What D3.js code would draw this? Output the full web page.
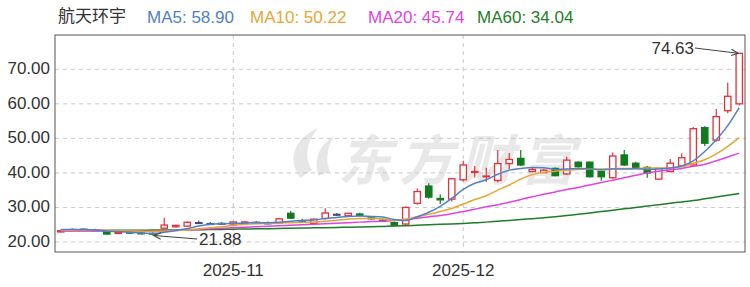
<!DOCTYPE html>
<html lang="zh">

<head>
    <meta charset="utf-8">
    <script src='https://d3js.org/d3.v7.min.js'></script>
    <style>
        body { margin: 0; background: #ffffff; }
        text { font-family: "Liberation Sans", Arial, "Noto Sans CJK SC", sans-serif; }
    </style>
</head>

<body>
    <script>
        // trading days shown on the chart
        const dates = [
            "2025-10-13", "2025-10-14", "2025-10-15", "2025-10-16", "2025-10-17",
            "2025-10-20", "2025-10-21", "2025-10-22", "2025-10-23", "2025-10-24",
            "2025-10-27", "2025-10-28", "2025-10-29", "2025-10-30", "2025-10-31",
            "2025-11-03", "2025-11-04", "2025-11-05", "2025-11-06", "2025-11-07",
            "2025-11-10", "2025-11-11", "2025-11-12", "2025-11-13", "2025-11-14",
            "2025-11-17", "2025-11-18", "2025-11-19", "2025-11-20", "2025-11-21",
            "2025-11-24", "2025-11-25", "2025-11-26", "2025-11-27", "2025-11-28",
            "2025-12-01", "2025-12-02", "2025-12-03", "2025-12-04", "2025-12-05",
            "2025-12-08", "2025-12-09", "2025-12-10", "2025-12-11", "2025-12-12",
            "2025-12-15", "2025-12-16", "2025-12-17", "2025-12-18", "2025-12-19",
            "2025-12-22", "2025-12-23", "2025-12-24", "2025-12-25", "2025-12-26",
            "2025-12-29", "2025-12-30", "2025-12-31", "2026-01-05", "2026-01-06"
        ];

        const opens = [22.9, 23.5, 23.7, 23.5, 23.1, 22.6, 22.8, 22.6, 22.5, 24.0,
            24.4, 24.6, 25.6, 25.3, 25.4, 25.2, 25.4, 25.7, 25.5, 25.5,
            28.3, 26.2, 25.4, 26.8, 28.0, 27.6, 28.1, 27.0, 26.3, 25.6,
            25.2, 31.2, 36.2, 32.6, 32.4, 38.0, 40.3, 38.9, 37.8, 42.7,
            44.2, 40.4, 40.1, 41.3, 39.7, 43.1, 43.1, 40.4, 38.6, 45.2,
            42.8, 41.6, 38.2, 40.4, 42.0, 42.3, 53.1, 49.5, 58.0, 60.0];
        const highs = [23.4, 24.0, 23.9, 23.8, 23.3, 23.0, 23.0, 22.9, 22.8, 27.0,
            25.0, 26.0, 26.2, 25.8, 25.7, 26.0, 26.0, 26.0, 25.9, 27.0,
            29.0, 26.7, 26.8, 29.8, 28.4, 28.4, 28.5, 27.2, 26.6, 25.9,
            30.3, 35.5, 37.0, 33.8, 38.6, 43.5, 42.0, 41.5, 46.6, 45.8,
            46.6, 41.7, 41.2, 41.6, 44.7, 43.4, 43.3, 40.6, 45.9, 46.6,
            43.2, 42.0, 41.5, 44.0, 45.7, 53.3, 53.5, 58.5, 66.1, 74.63];
        const lows = [22.8, 23.3, 23.4, 23.2, 22.1, 22.3, 22.4, 22.2, 21.88, 23.8,
            24.2, 24.5, 25.2, 24.9, 24.9, 25.0, 25.2, 25.2, 25.1, 25.3,
            26.7, 25.8, 25.2, 26.5, 27.5, 27.4, 27.4, 26.5, 25.8, 24.6,
            24.9, 30.8, 32.5, 31.0, 31.7, 37.6, 38.7, 37.4, 37.3, 41.0,
            42.0, 40.2, 40.0, 39.0, 39.4, 41.6, 38.7, 37.7, 38.3, 42.0,
            41.4, 38.6, 38.0, 40.2, 41.8, 42.0, 47.8, 49.0, 57.3, 59.5];
        const closes = [23.3, 23.6, 23.6, 23.4, 22.3, 22.7, 22.6, 22.5, 22.3, 24.9,
            24.8, 25.7, 25.6, 25.3, 25.4, 25.8, 25.8, 25.7, 25.5, 26.7,
            26.9, 26.2, 26.6, 28.4, 28.0, 28.3, 27.7, 26.7, 26.1, 24.8,
            30.0, 34.6, 33.0, 32.2, 38.3, 42.3, 40.4, 39.1, 42.7, 43.9,
            42.3, 41.0, 40.8, 39.2, 43.7, 41.8, 38.9, 38.9, 44.9, 42.3,
            41.6, 40.0, 41.3, 42.8, 44.4, 52.8, 48.6, 56.3, 62.19, 74.63];

        // moving averages
        const ma5 = [23.6, 23.6, 23.6, 23.5, 23.2, 23.0, 22.8, 22.6, 22.4, 22.8,
            23.3, 23.9, 24.6, 25.1, 25.3, 25.4, 25.5, 25.6, 25.6, 25.7,
            26.0, 26.2, 26.4, 26.8, 27.1, 27.4, 27.5, 27.4, 27.2, 26.5,
            26.2, 27.3, 28.6, 30.3, 32.6, 35.2, 37.0, 38.0, 39.6, 40.8,
            41.3, 41.6, 41.5, 41.0, 41.1, 41.3, 41.2, 40.9, 41.1, 41.1,
            41.2, 41.0, 41.1, 41.4, 42.0, 43.5, 46.2, 49.6, 53.7, 58.90];
        const ma10 = [23.4, 23.4, 23.5, 23.5, 23.4, 23.3, 23.2, 23.1, 23.0, 23.1,
            23.3, 23.5, 23.8, 24.1, 24.4, 24.8, 25.1, 25.3, 25.4, 25.5,
            25.6, 25.7, 25.8, 26.0, 26.3, 26.6, 26.8, 26.9, 26.7, 26.3,
            26.6, 27.3, 28.0, 28.8, 29.7, 31.0, 32.3, 33.4, 35.0, 36.5,
            38.2, 39.5, 40.2, 40.5, 40.8, 41.0, 41.1, 41.1, 41.2, 41.3,
            41.3, 41.4, 41.4, 41.5, 41.8, 42.8, 43.8, 45.5, 47.7, 50.22];
        const ma20 = [23.2, 23.2, 23.2, 23.2, 23.15, 23.1, 23.1, 23.1, 23.1, 23.2,
            23.35, 23.5, 23.65, 23.8, 23.95, 24.1, 24.25, 24.4, 24.55, 24.7,
            24.85, 25.0, 25.15, 25.3, 25.45, 25.6, 25.75, 25.9, 26.0, 26.2,
            26.5, 26.9, 27.3, 27.7, 28.2, 28.8, 29.5, 30.2, 30.8, 31.5,
            32.3, 33.1, 33.8, 34.5, 35.2, 35.8, 36.5, 37.2, 37.9, 38.6,
            39.3, 40.0, 40.5, 40.9, 41.3, 41.9, 42.5, 43.5, 44.6, 45.74];
        const ma60 = [23.3, 23.3, 23.3, 23.35, 23.35, 23.4, 23.4, 23.4, 23.45, 23.45,
            23.5, 23.5, 23.55, 23.6, 23.65, 23.7, 23.75, 23.8, 23.85, 23.9,
            24.0, 24.05, 24.1, 24.15, 24.2, 24.3, 24.35, 24.4, 24.5, 24.6,
            24.7, 24.85, 25.0, 25.1, 25.2, 25.35, 25.55, 25.75, 26.0, 26.25,
            26.5, 26.75, 27.0, 27.3, 27.65, 28.0, 28.4, 28.8, 29.2, 29.6,
            30.0, 30.4, 30.8, 31.2, 31.6, 32.0, 32.5, 33.0, 33.5, 34.04];

        const yTicks = [20, 30, 40, 50, 60, 70];
        const monthTicks = ["2025-11-03", "2025-12-01"];
        const monthLabels = ["2025-11", "2025-12"];

        const stockName = "航天环宇";
        const maNames = ["MA5", "MA10", "MA20", "MA60"];
        const maLast = ["58.90", "50.22", "45.74", "34.04"];
        const maColors = ["#4f81c9", "#e8a534", "#e043df", "#1f7d2a"];

        const upColor = "#e0323c";
        const downColor = "#127a1e";
        const flatColor = "#454a78";

        const W = 750, H = 287;
        const plotL = 55, plotR = 745, plotT = 35, plotB = 252;

        const candles = dates.map(function (d, i) {
            return { date: d, o: opens[i], h: highs[i], l: lows[i], c: closes[i] };
        });

        var xScale = d3.scaleBand()
            .domain(dates)
            .range([plotL, plotR])
            .paddingInner(0.36)
            .paddingOuter(0.18);
        var yScale = d3.scaleLinear()
            .domain([17.1, 79.93])
            .range([plotB, plotT]);

        const cx = function (d) { return xScale(d) + xScale.bandwidth() / 2; };

        const svg = d3.select("body")
            .append("svg")
            .attr("width", W)
            .attr("height", H);

        svg.append("rect")
            .attr("width", W).attr("height", H)
            .attr("fill", "#ffffff");

        // title + MA legend
        svg.append("text")
            .attr("x", 58).attr("y", 22)
            .attr("font-size", 17)
            .attr("fill", "#333")
            .text(stockName);

        const legendX = [147, 250, 368, 477];
        svg.append("g")
            .selectAll("text")
            .data(maNames)
            .enter()
            .append("text")
            .attr("x", function (d, i) { return legendX[i]; })
            .attr("y", 22.5)
            .attr("font-size", 17)
            .attr("fill", function (d, i) { return maColors[i]; })
            .text(function (d, i) { return d + ": " + maLast[i]; });

        // watermark
        const wm = svg.append("g").attr("opacity", 0.9);
        wm.append("path")
            .attr("d", "M300,178 C288,160 292,140 318,128 C306,142 304,158 312,170 Z M318,176 C314,160 318,146 334,136 C326,150 326,162 330,172 Z")
            .attr("fill", "#e4e4e4");
        wm.append("text")
            .attr("x", 338).attr("y", 180)
            .attr("font-size", 54)
            .attr("font-weight", "bold")
            .attr("letter-spacing", 7)
            .attr("font-style", "italic")
            .attr("fill", "#e6e6e6")
            .style("font-family", "'Noto Sans CJK SC', sans-serif")
            .text("东方财富");

        // horizontal grid
        svg.append("g")
            .selectAll("line")
            .data(yTicks)
            .enter()
            .append("line")
            .attr("x1", plotL).attr("x2", plotR)
            .attr("y1", function (d) { return yScale(d); })
            .attr("y2", function (d) { return yScale(d); })
            .attr("stroke", "#c8c8c8")
            .attr("stroke-dasharray", "4,4");

        // vertical month grid
        svg.append("g")
            .selectAll("line")
            .data(monthTicks)
            .enter()
            .append("line")
            .attr("x1", function (d) { return cx(d); })
            .attr("x2", function (d) { return cx(d); })
            .attr("y1", plotT).attr("y2", plotB)
            .attr("stroke", "#c8c8c8")
            .attr("stroke-dasharray", "4,4");

        // y axis labels
        svg.append("g")
            .selectAll("text")
            .data(yTicks)
            .enter()
            .append("text")
            .attr("x", 50)
            .attr("y", function (d) { return yScale(d) + 5; })
            .attr("text-anchor", "end")
            .attr("font-size", 17)
            .attr("fill", "#333")
            .text(function (d) { return d3.format(".2f")(d); });

        // x axis labels
        svg.append("g")
            .selectAll("text")
            .data(monthTicks)
            .enter()
            .append("text")
            .attr("x", function (d) { return cx(d); })
            .attr("y", 276)
            .attr("text-anchor", "middle")
            .attr("font-size", 17)
            .attr("fill", "#333")
            .text(function (d, i) { return monthLabels[i]; });

        // candles
        const colorOf = function (d) {
            if (d.c > d.o) return upColor;
            if (d.c < d.o) return downColor;
            return flatColor;
        };
        const cg = svg.append("g");
        cg.selectAll("line")
            .data(candles)
            .enter()
            .append("line")
            .attr("x1", function (d) { return cx(d.date); })
            .attr("x2", function (d) { return cx(d.date); })
            .attr("y1", function (d) { return yScale(d.h); })
            .attr("y2", function (d) { return yScale(d.l); })
            .attr("stroke", colorOf)
            .attr("stroke-width", 1.2);
        cg.selectAll("rect")
            .data(candles)
            .enter()
            .append("rect")
            .attr("x", function (d) { return xScale(d.date) + 0.5; })
            .attr("y", function (d) { return yScale(Math.max(d.o, d.c)); })
            .attr("width", xScale.bandwidth() - 1)
            .attr("height", function (d) { return Math.max(0.8, Math.abs(yScale(d.o) - yScale(d.c))); })
            .attr("fill", function (d) { return d.c > d.o ? "#ffffff" : colorOf(d); })
            .attr("stroke", colorOf)
            .attr("stroke-width", 1.3);

        // moving average lines
        const maSeries = [ma60, ma20, ma10, ma5];
        const maSeriesColors = [maColors[3], maColors[2], maColors[1], maColors[0]];
        const line = d3.line()
            .x(function (d, i) { return cx(dates[i]); })
            .y(function (d) { return yScale(d); })
            .curve(d3.curveMonotoneX);
        maSeries.forEach(function (s, k) {
            svg.append("path")
                .datum(s)
                .attr("fill", "none")
                .attr("stroke", maSeriesColors[k])
                .attr("stroke-width", 1.5)
                .attr("d", line);
        });

        // plot frame
        svg.append("rect")
            .attr("x", plotL).attr("y", plotT)
            .attr("width", plotR - plotL).attr("height", plotB - plotT)
            .attr("fill", "none")
            .attr("stroke", "#555")
            .attr("stroke-width", 1);

        // high / low markers
        svg.append("defs").append("marker")
            .attr("id", "arr")
            .attr("viewBox", "0 0 10 10")
            .attr("refX", 9).attr("refY", 5)
            .attr("markerWidth", 8).attr("markerHeight", 8)
            .attr("orient", "auto")
            .append("path")
            .attr("d", "M0,1 L9,5 L0,9")
            .attr("fill", "none")
            .attr("stroke", "#444")
            .attr("stroke-width", 1.4);

        const hiIdx = d3.maxIndex(highs);
        const loIdx = d3.minIndex(lows);

        svg.append("text")
            .attr("x", 694).attr("y", 54)
            .attr("text-anchor", "end")
            .attr("font-size", 17)
            .attr("fill", "#333")
            .text(highs[hiIdx].toFixed(2));
        svg.append("line")
            .attr("x1", 695).attr("y1", 48)
            .attr("x2", cx(dates[hiIdx]) - 1).attr("y2", yScale(highs[hiIdx]))
            .attr("stroke", "#444")
            .attr("marker-end", "url(#arr)");

        svg.append("text")
            .attr("x", 199).attr("y", 245)
            .attr("font-size", 17)
            .attr("fill", "#333")
            .text(lows[loIdx].toFixed(2));
        svg.append("line")
            .attr("x1", 197).attr("y1", 239)
            .attr("x2", cx(dates[loIdx]) + 1).attr("y2", yScale(lows[loIdx]))
            .attr("stroke", "#444")
            .attr("marker-end", "url(#arr)");
    </script>
</body>

</html>
